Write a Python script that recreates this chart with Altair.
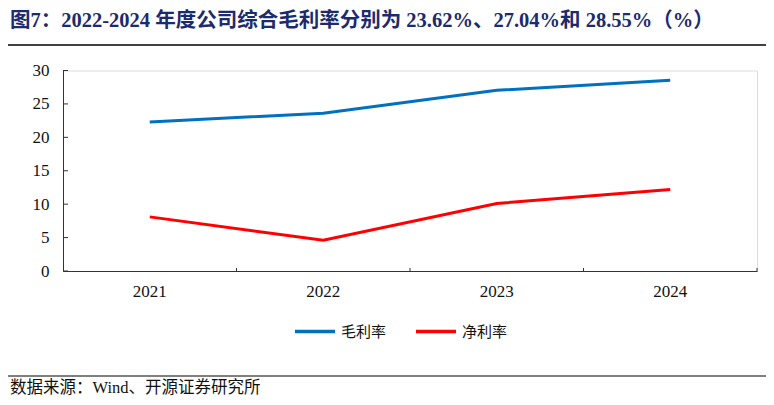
import altair as alt
import pandas as pd

years = ["2021", "2022", "2023", "2024"]
gross_margin = [22.3, 23.62, 27.04, 28.55]
net_margin = [8.1, 4.6, 10.1, 12.2]
series_names = ["毛利率", "净利率"]
series_colors = ["#0070C0", "#FF0000"]
y_ticks = [0, 5, 10, 15, 20, 25, 30]

title_text = "图7：2022-2024 年度公司综合毛利率分别为 23.62%、27.04%和 28.55%（%）"
source_text = "数据来源：Wind、开源证券研究所"

rows = []
for i, y in enumerate(years):
    rows.append({"year": y, "series": series_names[0], "value": gross_margin[i]})
    rows.append({"year": y, "series": series_names[1], "value": net_margin[i]})
df = pd.DataFrame(rows)

W, H = 694, 200.5
SERIF = "Times New Roman, Liberation Serif, Noto Sans CJK SC"
CJK = "Noto Sans CJK SC"

xscale = alt.Scale(domain=years, paddingInner=0, paddingOuter=0)
yscale = alt.Scale(domain=[0, 30], nice=False)

x_axis = alt.Axis(title=None, labelAngle=0, ticks=False, domainColor="#333",
                  labelFont=SERIF, labelFontSize=17, labelColor="#111", labelPadding=12)
y_axis = alt.Axis(title=None, values=y_ticks, ticks=False, grid=False,
                  labelOverlap=False, labelFlush=False, domainColor="#333",
                  labelFont=SERIF, labelFontSize=17, labelColor="#111", labelPadding=14)

lines = alt.Chart(df).mark_line(strokeWidth=3).encode(
    x=alt.X("year:N", scale=xscale, sort=years, axis=x_axis),
    y=alt.Y("value:Q", scale=yscale, axis=y_axis),
    color=alt.Color("series:N", scale=alt.Scale(domain=series_names, range=series_colors),
                    legend=alt.Legend(title=None, orient="none", legendX=230, legendY=239,
                                      direction="horizontal", symbolType="stroke",
                                      symbolSize=1600, symbolStrokeWidth=3.5,
                                      labelFont=CJK, labelFontSize=15, labelColor="#111",
                                      labelOffset=4, columnPadding=22)),
)

ytick_df = pd.DataFrame({"value": y_ticks})
yticks = alt.Chart(ytick_df).mark_rule(color="#333", strokeWidth=1).encode(
    y=alt.Y("value:Q", scale=yscale, axis=y_axis), x=alt.value(0), x2=alt.value(5))

xtick_df = pd.DataFrame({"year": years[1:]})
xticks = alt.Chart(xtick_df).mark_rule(color="#333", strokeWidth=1).encode(
    x=alt.X("year:N", scale=xscale, sort=years, bandPosition=0, axis=x_axis),
    y=alt.value(H - 3), y2=alt.value(H))
xtick_end = alt.Chart(pd.DataFrame({"year": [years[-1]]})).mark_rule(color="#333", strokeWidth=1).encode(
    x=alt.X("year:N", scale=xscale, sort=years, bandPosition=1, axis=x_axis),
    y=alt.value(H - 3), y2=alt.value(H))

one = pd.DataFrame({"t": [title_text], "s": [source_text]})
title = alt.Chart(one).mark_text(align="left", baseline="middle", font=SERIF, fontSize=20.5,
                                 fontWeight="bold", color="#1c2a6e").encode(
    text="t:N", x=alt.value(-53), y=alt.value(-50))
rule_top = alt.Chart(one).mark_rule(color="#000", strokeWidth=1.5).encode(
    x=alt.value(-60), x2=alt.value(707), y=alt.value(-25.5))
rule_bot = alt.Chart(one).mark_rule(color="#000", strokeWidth=1).encode(
    x=alt.value(-60), x2=alt.value(707), y=alt.value(305.5))
source = alt.Chart(one).mark_text(align="left", baseline="middle", font=SERIF, fontSize=16.5,
                                  color="#111").encode(
    text="s:N", x=alt.value(-53), y=alt.value(317.5))

chart = alt.layer(lines, yticks, xticks, xtick_end, title, rule_top, rule_bot, source).properties(
    width=W, height=H,
    autosize=alt.AutoSizeParams(type="none"),
    padding={"left": 55, "top": 62.5, "right": 9, "bottom": 126},
).configure_view(stroke=None).configure(background="white")

chart.save("out.html", embed_options={"renderer": "svg", "actions": False})
